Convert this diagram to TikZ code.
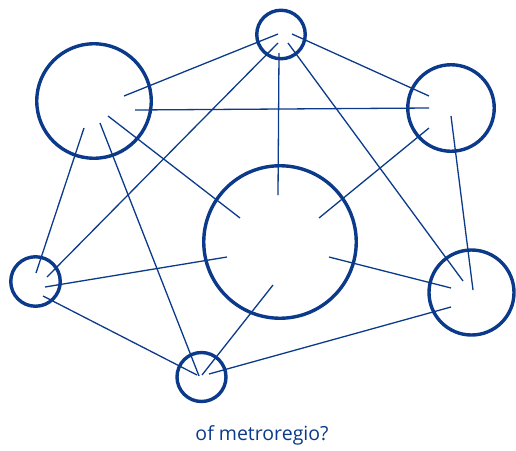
\documentclass[tikz,border=0pt]{standalone}
\usepackage{fontspec}
\setmainfont{Open Sans}
\definecolor{netblue}{RGB}{12,58,138}
\begin{document}
\begin{tikzpicture}[x=1pt,y=-1pt,
  hub/.style={circle,draw=netblue,line width=3.4pt,inner sep=0pt,minimum size=#1},
  link/.style={draw=netblue,line width=1.3pt}]
\useasboundingbox (0,0) rectangle (516,450);
\node[hub=48.5pt] (T) at (281,34.5) {};
\node[hub=114.5pt] (TL) at (94,101) {};
\node[hub=86.5pt] (RT) at (451,108) {};
\node[hub=152.5pt] (C) at (280,242) {};
\node[hub=49.5pt] (L) at (35.5,281.5) {};
\node[hub=49pt] (B) at (201.5,377) {};
\node[hub=85pt] (BR) at (471.5,292.5) {};
\path[link] ([shift={(30,-5)}]TL.center) -- ([shift={(-3,-0.5)}]T.center);
\path[link] ([shift={(41,9)}]TL.center) -- ([shift={(-22,0)}]RT.center);
\path[link] ([shift={(14,15)}]TL.center) -- ([shift={(-40,-24)}]C.center);
\path[link] ([shift={(6,22)}]TL.center) -- ([shift={(-2.5,-1)}]B.center);
\path[link] ([shift={(-10,27)}]TL.center) -- ([shift={(0.5,-8.5)}]L.center);
\path[link] ([shift={(-3,8.5)}]T.center) -- ([shift={(11.5,-4.5)}]L.center);
\path[link] ([shift={(-2,18.5)}]T.center) -- ([shift={(-2,-47)}]C.center);
\path[link] ([shift={(7,8.5)}]T.center) -- ([shift={(-8.5,-11.5)}]BR.center);
\path[link] ([shift={(11,-0.5)}]T.center) -- ([shift={(-22,-12)}]RT.center);
\path[link] ([shift={(-22,20)}]RT.center) -- ([shift={(39,-24)}]C.center);
\path[link] ([shift={(0,8)}]RT.center) -- ([shift={(1.5,-2.5)}]BR.center);
\path[link] ([shift={(9.5,5.5)}]L.center) -- ([shift={(-53,15)}]C.center);
\path[link] ([shift={(7.5,14.5)}]L.center) -- ([shift={(-4.5,-2)}]B.center);
\path[link] ([shift={(0.5,-2)}]B.center) -- ([shift={(-7,43)}]C.center);
\path[link] ([shift={(7.5,-3)}]B.center) -- ([shift={(-20.5,14.5)}]BR.center);
\path[link] ([shift={(49,15)}]C.center) -- ([shift={(-20.5,-4.5)}]BR.center);
\node[anchor=base,text=netblue,font=\fontsize{19.5}{22}\selectfont,inner sep=0pt] (cap) at (262,440) {of metroregio?};
\end{tikzpicture}
\end{document}
